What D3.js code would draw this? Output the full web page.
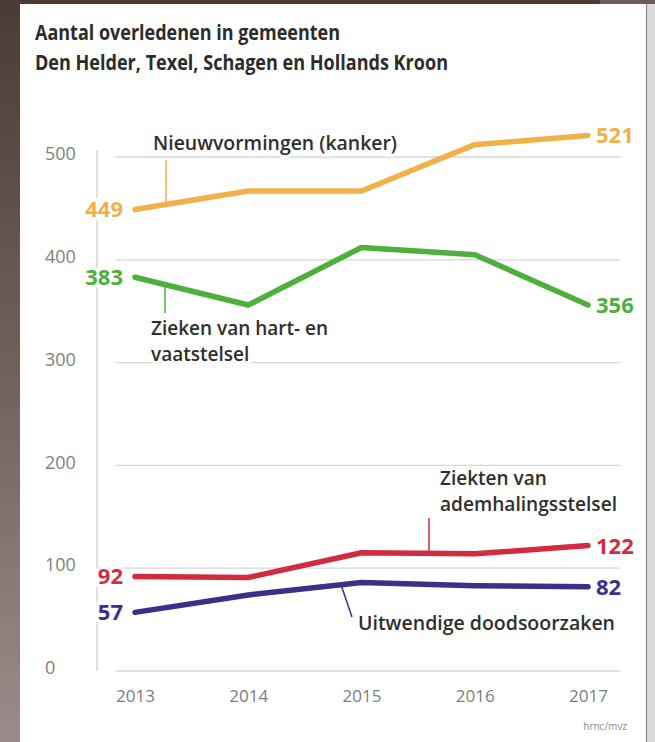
<!DOCTYPE html>
<html>
<head>
<meta charset="utf-8">
<script src="https://cdn.jsdelivr.net/npm/d3@7/dist/d3.min.js"></script>
<style>
  html, body { margin: 0; padding: 0; background: #fff; }
  svg { display: block; }
</style>
</head>
<body>
<svg id="chart" width="655" height="742"></svg>
<script>
// ---- DATA ----
const years = ["2013", "2014", "2015", "2016", "2017"];
const yTicks = [0, 100, 200, 300, 400, 500];
const nieuwvormingen = [449, 467, 467, 512, 521];
const hartVaat = [383, 356, 412, 405, 356];
const ademhaling = [92, 91, 115, 114, 122];
const uitwendig = [57, 74, 86, 83, 82];

const titleLines = ["Aantal overledenen in gemeenten", "Den Helder, Texel, Schagen en Hollands Kroon"];
const source = "hrnc/mvz";

const series = [
  { key: "nieuw", values: nieuwvormingen, color: "#F2B04A", label: ["Nieuwvormingen (kanker)"] },
  { key: "hart", values: hartVaat, color: "#4DAF3C", label: ["Zieken van hart- en", "vaatstelsel"] },
  { key: "adem", values: ademhaling, color: "#D22B3F", label: ["Ziekten van", "ademhalingsstelsel"] },
  { key: "uitw", values: uitwendig, color: "#3B2F8A", label: ["Uitwendige doodsoorzaken"] }
];

// ---- LAYOUT ----
const svg = d3.select("#chart");
const W = 655, H = 742;
const font = "'Open Sans', 'Noto Sans', sans-serif";

// photo background / card
const defs = svg.append("defs");
const lg = defs.append("linearGradient").attr("id", "leftBg").attr("x1", 0).attr("y1", 0).attr("x2", 0).attr("y2", 1);
lg.append("stop").attr("offset", 0).attr("stop-color", "#4b3b34");
lg.append("stop").attr("offset", 0.5).attr("stop-color", "#6f625d");
lg.append("stop").attr("offset", 1).attr("stop-color", "#9a8c8a");
svg.append("rect").attr("width", W).attr("height", H).attr("fill", "url(#leftBg)");
svg.append("rect").attr("x", 600).attr("y", 0).attr("width", 55).attr("height", H).attr("fill", "#dcdada");
svg.append("rect").attr("x", 600).attr("y", 0).attr("width", 55).attr("height", 4).attr("fill", "#6a5d58");
svg.append("rect").attr("x", 20).attr("y", 4).attr("width", 626).attr("height", H - 4).attr("fill", "#ffffff");
svg.append("line").attr("x1", 646.5).attr("x2", 646.5).attr("y1", 4).attr("y2", H)
  .attr("stroke", "#8a8686").attr("stroke-width", 1.2);

const x = d3.scalePoint().domain(years).range([135, 588]);
const y = d3.scaleLinear().domain([0, 500]).range([671, 157]);

// gridlines
svg.append("g").selectAll("line").data(yTicks).join("line")
  .attr("x1", 116).attr("x2", 620)
  .attr("y1", d => y(d)).attr("y2", d => y(d))
  .attr("stroke", "#d6d6d6").attr("stroke-width", 1.3);

// vertical axis line
svg.append("line").attr("x1", 97).attr("x2", 97).attr("y1", 150).attr("y2", y(0))
  .attr("stroke", "#d0d0d0").attr("stroke-width", 1.4);

// y tick labels (via axis)
const yAxis = d3.axisLeft(y).tickValues(yTicks).tickSize(0).tickPadding(0);
const gy = svg.append("g").attr("transform", "translate(45,-3)").call(yAxis);
gy.select(".domain").remove();
gy.selectAll("text").attr("text-anchor", "start").attr("x", 0)
  .attr("font-family", font).attr("font-size", 18).attr("fill", "#808080");

// x tick labels (via axis)
const xAxis = d3.axisBottom(x).tickSize(0).tickPadding(0);
const gx = svg.append("g").attr("transform", "translate(0,690)").call(xAxis);
gx.select(".domain").remove();
gx.selectAll("text").attr("font-family", font).attr("font-size", 17).attr("fill", "#7c7c7c");

function valAt(vals, xp) {
  for (let i = 0; i < years.length - 1; i++) {
    const x0 = x(years[i]), x1 = x(years[i + 1]);
    if (xp >= x0 && xp <= x1) {
      const t = (xp - x0) / (x1 - x0);
      return y(vals[i] + t * (vals[i + 1] - vals[i]));
    }
  }
  return y(vals[0]);
}

// leader lines
const lead = svg.append("g").attr("stroke-width", 1.5);
lead.append("line").attr("x1", 166).attr("x2", 166).attr("y1", 160).attr("y2", valAt(nieuwvormingen, 166))
  .attr("stroke", series[0].color);
lead.append("line").attr("x1", 165).attr("x2", 165).attr("y1", valAt(hartVaat, 165)).attr("y2", 313)
  .attr("stroke", series[1].color);
lead.append("line").attr("x1", 429).attr("x2", 429).attr("y1", 518).attr("y2", valAt(ademhaling, 429))
  .attr("stroke", series[2].color);
lead.append("line").attr("x1", 341).attr("x2", 352).attr("y1", valAt(uitwendig, 341)).attr("y2", 617)
  .attr("stroke", series[3].color);

// lines
const line = d3.line().x((d, i) => x(years[i])).y(d => y(d)).curve(d3.curveLinear);
svg.append("g").selectAll("path").data(series).join("path")
  .attr("d", d => line(d.values))
  .attr("fill", "none").attr("stroke", d => d.color)
  .attr("stroke-width", 5.5).attr("stroke-linecap", "round").attr("stroke-linejoin", "round");

// value labels
const vl = svg.append("g").attr("font-family", font).attr("font-weight", 700).attr("font-size", 22);
series.forEach(s => {
  const first = s.values[0], last = s.values[s.values.length - 1];
  vl.append("text").attr("x", x(years[0]) - 12).attr("y", y(first)).attr("dy", "0.36em")
    .attr("text-anchor", "end").attr("fill", s.color)
    .attr("stroke", "#fff").attr("stroke-width", 7).attr("paint-order", "stroke")
    .text(first);
  vl.append("text").attr("x", x(years[years.length - 1]) + 8).attr("y", y(last)).attr("dy", "0.36em")
    .attr("text-anchor", "start").attr("fill", s.color)
    .attr("stroke", "#fff").attr("stroke-width", 7).attr("paint-order", "stroke")
    .text(last);
});

// series name labels
const labelPos = {
  nieuw: { x: 153, y: 143, w: [244] },
  hart: { x: 151, y: 328, w: [177, null] },
  adem: { x: 440, y: 478, w: [null, 177] },
  uitw: { x: 358, y: 623, w: [257] }
};
const nl = svg.append("g").attr("font-family", font).attr("font-weight", 600).attr("font-size", 19)
  .attr("fill", "#2e2e2e");
series.forEach(s => {
  const p = labelPos[s.key];
  s.label.forEach((t, i) => {
    const tx = nl.append("text").attr("x", p.x).attr("y", p.y + i * 26).attr("dy", "0.35em")
      .attr("stroke", "#fff").attr("stroke-width", 6).attr("paint-order", "stroke")
      .text(t);
    if (p.w[i]) tx.attr("textLength", p.w[i]).attr("lengthAdjust", "spacingAndGlyphs");
  });
});

// title
const titleW = [305, 413];
const tg = svg.append("g").attr("font-family", font).attr("font-weight", 700).attr("font-size", 21)
  .attr("fill", "#2c2c2c");
titleLines.forEach((t, i) => {
  tg.append("text").attr("x", 35).attr("y", 40 + i * 30)
    .attr("textLength", titleW[i]).attr("lengthAdjust", "spacingAndGlyphs").text(t);
});

// source
svg.append("text").attr("x", 627).attr("y", 730).attr("text-anchor", "end")
  .attr("font-family", font).attr("font-size", 10).attr("fill", "#8a8a8a").text(source);
</script>
</body>
</html>
